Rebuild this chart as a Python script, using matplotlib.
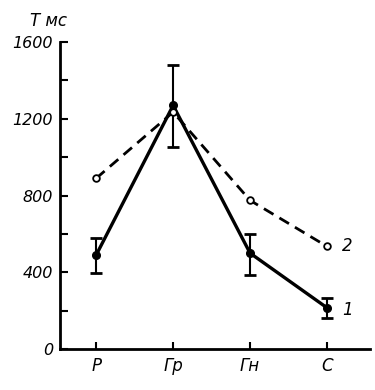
import matplotlib
matplotlib.use("Agg")
import matplotlib.pyplot as plt
import numpy as np

categories = ["Р", "Гр", "Гн", "С"]
series1 = [490, 1270, 500, 215]
series1_err_low = [395, 1055, 385, 160]
series1_err_high = [580, 1480, 600, 265]
series2 = [890, 1235, 775, 535]
yticks_major = [0, 400, 800, 1200, 1600]
yticks_minor = [200, 600, 1000, 1400]

fig = plt.figure(figsize=(3.75, 3.9), dpi=100)
ax = fig.add_axes([0.16, 0.105, 0.827, 0.787])
x = np.arange(len(categories))

s1 = np.array(series1)
lo = s1 - np.array(series1_err_low)
hi = np.array(series1_err_high) - s1

ax.errorbar(x, s1, yerr=[lo, hi], fmt='none', ecolor='black', elinewidth=1.5,
            capsize=4.5, capthick=2, zorder=2)
ax.plot(x, series1, '-', color='black', lw=2.4, marker='o', markersize=5.5,
        markerfacecolor='black', zorder=3)
ax.plot(x, series2, '--', color='black', lw=2.0, dashes=(4, 2.5), marker='o',
        markersize=4.8, markerfacecolor='white', markeredgewidth=1.3, zorder=4)

ax.set_xlim(-0.47, 3.56)
ax.set_ylim(0, 1600)
ax.set_xticks(x)
ax.set_xticklabels(categories, fontsize=12, style='italic')
ax.set_yticks(yticks_major)
ax.set_yticks(yticks_minor, minor=True)
ax.set_yticklabels([str(v) for v in yticks_major], fontsize=11.5, style='italic')
ax.tick_params(axis='both', which='both', direction='in', width=1.5)
ax.tick_params(axis='y', which='major', length=6, pad=5)
ax.tick_params(axis='y', which='minor', length=6)
ax.tick_params(axis='x', length=5, pad=6)
for s in ['top', 'right']:
    ax.spines[s].set_visible(False)
ax.spines['left'].set_linewidth(2)
ax.spines['bottom'].set_linewidth(2)

ax.text(3.2, 535, "2", fontsize=12, style='italic', va='center')
ax.text(3.2, 205, "1", fontsize=12, style='italic', va='center')
fig.text(0.08, 0.945, "T мс", fontsize=12, style='italic', va='center')

fig.savefig("out.png", dpi=100)
